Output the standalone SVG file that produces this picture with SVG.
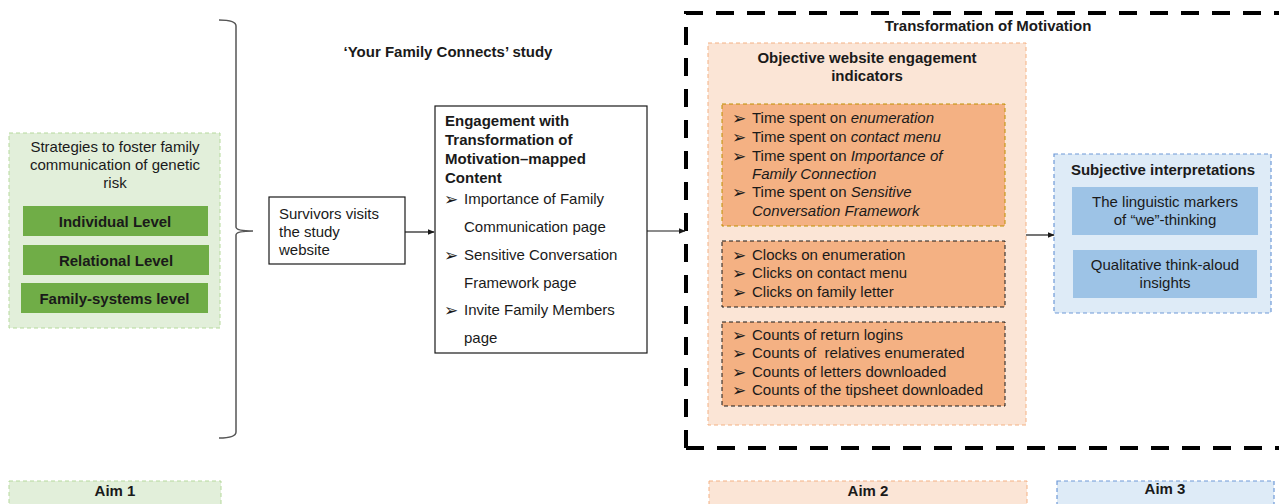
<svg xmlns="http://www.w3.org/2000/svg" width="1279" height="504" viewBox="0 0 1279 504">
<defs>
<style>
text{font-family:"Liberation Sans",Arial,sans-serif;font-size:15px;fill:#1a1a1a}
.b{font-weight:bold}
.c{text-anchor:middle}
.i{font-style:italic}
.bul{font-family:"DejaVu Sans","Liberation Sans",sans-serif;font-size:17px}
.green{fill:#e2efda;stroke:#b5d99c;stroke-width:1;stroke-dasharray:4 3}
.gbar{fill:#70ad47}
.orange{fill:#fbe5d6;stroke:#f4b183;stroke-width:1;stroke-dasharray:4 3}
.oin{fill:#f4b183;stroke:#1a1a1a;stroke-width:1;stroke-dasharray:4 3}
.blue{fill:#deebf7;stroke:#6f9ad8;stroke-width:1.2;stroke-dasharray:4 3}
.bin{fill:#9dc3e6}
.box{fill:#fff;stroke:#1a1a1a;stroke-width:1.2}
.conn{stroke:#1a1a1a;stroke-width:1.2;fill:none}
</style>
<marker id="ah" viewBox="0 0 10 10" refX="9" refY="5" markerWidth="7" markerHeight="7" orient="auto" markerUnits="userSpaceOnUse">
<path d="M0,1 L10,5 L0,9 Z" fill="#1a1a1a"/>
</marker>
</defs>
<rect width="1279" height="504" fill="#fff"/>

<g id="aim1-container">
<rect class="green" x="9" y="133" width="211" height="195"/>
<text class="c" x="115" y="152">Strategies to foster family</text>
<text class="c" x="115" y="170">communication of genetic</text>
<text class="c" x="115" y="188">risk</text>
</g>
<g id="individual">
<rect class="gbar" x="23" y="206" width="185" height="30"/>
<text class="b c" x="115" y="226.5">Individual Level</text>
</g>
<g id="relational">
<rect class="gbar" x="23" y="245" width="186" height="30"/>
<text class="b c" x="116" y="265.5">Relational Level</text>
</g>
<g id="family-systems">
<rect class="gbar" x="21" y="283" width="187" height="30"/>
<text class="b c" x="114.5" y="303.5">Family-systems level</text>
</g>

<g id="brace">
<path d="M219,20 Q236,20 236,26 L236,227 Q236,231 253,231 Q236,231 236,235 L236,432 Q236,438 219,438" fill="none" stroke="#555" stroke-width="1.5"/>
</g>

<g id="study-title">
<text class="b c" x="448" y="57">‘Your Family Connects’ study</text>
</g>

<g id="survivors">
<rect class="box" x="269" y="197" width="136" height="67"/>
<text x="279" y="218.5">Survivors visits</text>
<text x="279" y="236.5">the study</text>
<text x="279" y="254.5">website</text>
</g>

<g id="engagement">
<rect class="box" x="435" y="106" width="212" height="247"/>
<text class="b" x="445" y="126">Engagement with</text>
<text class="b" x="445" y="145">Transformation of</text>
<text class="b" x="445" y="164">Motivation–mapped</text>
<text class="b" x="445" y="183">Content</text>
<text class="bul" x="444" y="205">➢</text><text x="464" y="204">Importance of Family</text>
<text x="464" y="232">Communication page</text>
<text class="bul" x="444" y="261">➢</text><text x="464" y="260">Sensitive Conversation</text>
<text x="464" y="288">Framework page</text>
<text class="bul" x="444" y="316">➢</text><text x="464" y="315">Invite Family Members</text>
<text x="464" y="343">page</text>
</g>

<g id="transformation-frame">
<path d="M686,448 L686,13 L1290,13 M686,448 L1290,448" fill="none" stroke="#000" stroke-width="4" stroke-dasharray="18 13"/>
<text class="b c" x="988" y="31">Transformation of Motivation</text>
</g>

<g id="aim2-container">
<rect class="orange" x="708" y="43" width="318" height="382"/>
<text class="b c" x="867" y="63">Objective website engagement</text>
<text class="b c" x="867" y="81">indicators</text>
</g>
<g id="time-spent">
<rect class="oin" x="722" y="104" width="283" height="122" style="stroke:#bf9000"/>
<text class="bul" x="732" y="124">➢</text><text x="752" y="123">Time spent on <tspan class="i">enumeration</tspan></text>
<text class="bul" x="732" y="143">➢</text><text x="752" y="142">Time spent on <tspan class="i">contact menu</tspan></text>
<text class="bul" x="732" y="162">➢</text><text x="752" y="161">Time spent on <tspan class="i">Importance of</tspan></text>
<text class="i" x="752" y="179">Family Connection</text>
<text class="bul" x="732" y="198">➢</text><text x="752" y="197">Time spent on <tspan class="i">Sensitive</tspan></text>
<text class="i" x="752" y="216">Conversation Framework</text>
</g>
<g id="clicks">
<rect class="oin" x="722" y="241" width="283" height="66"/>
<text class="bul" x="732" y="261">➢</text><text x="752" y="260">Clocks on enumeration</text>
<text class="bul" x="732" y="279">➢</text><text x="752" y="278">Clicks on contact menu</text>
<text class="bul" x="732" y="298">➢</text><text x="752" y="297">Clicks on family letter</text>
</g>
<g id="counts">
<rect class="oin" x="722" y="322" width="283" height="84"/>
<text class="bul" x="732" y="341">➢</text><text x="752" y="340">Counts of return logins</text>
<text class="bul" x="732" y="359">➢</text><text x="752" y="358" xml:space="preserve">Counts of  relatives enumerated</text>
<text class="bul" x="732" y="378">➢</text><text x="752" y="377">Counts of letters downloaded</text>
<text class="bul" x="732" y="396">➢</text><text x="752" y="395">Counts of the tipsheet downloaded</text>
</g>

<g id="aim3-container">
<rect class="blue" x="1054" y="154" width="217" height="159"/>
<text class="b c" x="1163" y="175">Subjective interpretations</text>
</g>
<g id="linguistic">
<rect class="bin" x="1072" y="187" width="186" height="48"/>
<text class="c" x="1165" y="207">The linguistic markers</text>
<text class="c" x="1165" y="225">of “we”-thinking</text>
</g>
<g id="qualitative">
<rect class="bin" x="1073" y="250" width="184" height="48"/>
<text class="c" x="1165" y="270">Qualitative think-aloud</text>
<text class="c" x="1165" y="288">insights</text>
</g>

<g id="aim1">
<rect class="green" x="9" y="481" width="212" height="30"/>
<text class="b c" x="115" y="496">Aim 1</text>
</g>
<g id="aim2">
<rect class="orange" x="709" y="481" width="318" height="30"/>
<text class="b c" x="868" y="496">Aim 2</text>
</g>
<g id="aim3">
<rect class="blue" x="1057" y="481" width="217" height="30"/>
<text class="b c" x="1165" y="494">Aim 3</text>
</g>

<g id="connectors">
<line class="conn" x1="405" y1="232" x2="434" y2="232" marker-end="url(#ah)"/>
<line class="conn" x1="647" y1="231" x2="685" y2="231" marker-end="url(#ah)"/>
<line class="conn" x1="1026" y1="235" x2="1054" y2="235" marker-end="url(#ah)"/>
</g>
</svg>
